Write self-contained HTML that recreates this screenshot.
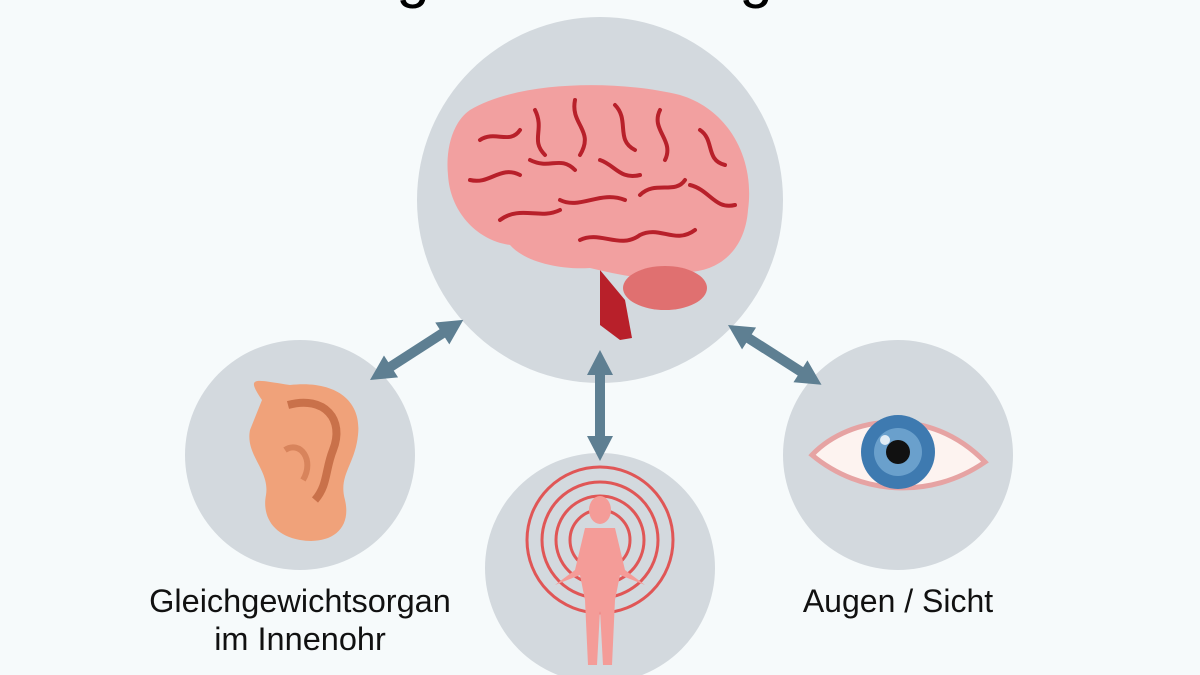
<!DOCTYPE html>
<html><head><meta charset="utf-8"><style>
body{margin:0;width:1200px;height:675px;overflow:hidden;background:#f6fafb;font-family:"Liberation Sans",sans-serif}
svg{position:absolute;left:0;top:0}
.t{font-family:"Liberation Sans",sans-serif;font-size:32.5px;fill:#111;text-anchor:middle}
</style></head><body>
<svg width="1200" height="675" viewBox="0 0 1200 675">
<text x="413" y="-4" font-size="60" text-anchor="middle" font-family="Liberation Sans">g</text>
<text x="756" y="-4" font-size="60" text-anchor="middle" font-family="Liberation Sans">g</text>
<circle cx="600" cy="200" r="183" fill="#d3d9de"/>
<circle cx="300" cy="455" r="115" fill="#d3d9de"/>
<circle cx="898" cy="455" r="115" fill="#d3d9de"/>
<circle cx="600" cy="568" r="115" fill="#d3d9de"/>
<defs>
<g id="da"><line x1="20" y1="0" x2="92" y2="0" stroke="#5e7f92" stroke-width="10"/><path d="M0,0L25,-13L25,13z M111,0L86,-13L86,13z" fill="#5e7f92"/></g>
</defs>
<use href="#da" transform="translate(370,380) rotate(-32.8)"/>
<use href="#da" transform="translate(728,325) rotate(32.6)"/>
<use href="#da" transform="translate(600,350) rotate(90)"/>
<path d="M600,325 L620,340 L632,338 L625,300 L600,270 Z" fill="#b8202a"/>
<path d="M470,110 C520,80 620,80 680,95 C730,110 755,160 748,210 C745,250 720,270 690,272 C660,285 620,275 590,268 C560,270 525,262 510,245 C475,240 450,210 448,175 C445,145 455,120 470,110 Z" fill="#f2a0a0"/>
<ellipse cx="665" cy="288" rx="42" ry="22" fill="#e07070"/>
<g stroke="#b8202a" stroke-width="4" fill="none" stroke-linecap="round">
<path d="M480,140 c15,-10 30,5 40,-10"/><path d="M470,180 c20,5 30,-15 50,-5"/><path d="M535,110 c10,20 -5,30 10,45"/>
<path d="M575,100 c-5,25 20,30 5,55"/><path d="M615,105 c15,15 0,35 20,45"/><path d="M660,110 c-10,20 15,30 5,50"/>
<path d="M700,130 c15,10 5,30 25,35"/><path d="M690,185 c20,5 25,25 45,20"/><path d="M500,220 c20,-15 40,0 60,-10"/>
<path d="M560,200 c20,10 40,-10 65,0"/><path d="M580,240 c20,-10 40,10 60,-5 c20,-10 35,10 55,-5"/><path d="M640,195 c15,-15 35,0 45,-15"/>
<path d="M530,160 c20,10 30,-5 45,10"/><path d="M600,160 c15,5 20,20 40,15"/>
</g>
<path d="M262,400 C245,375 255,380 290,385 C335,380 362,400 358,435 C355,465 338,475 345,500 C352,530 330,545 300,540 C272,535 262,515 266,495 C270,470 245,455 250,430 Z" fill="#f0a27a"/>
<path d="M288,405 C325,395 345,420 333,450 C325,470 328,485 315,500" stroke="#c9714a" stroke-width="8" fill="none"/>
<path d="M285,450 C300,440 315,460 303,480" stroke="#d8845c" stroke-width="6" fill="none"/>
<path d="M812,455 C850,415 930,405 985,462 C930,500 860,495 812,455 Z" fill="#fdf3f0" stroke="#e6a3a3" stroke-width="5"/>
<circle cx="898" cy="452" r="37" fill="#3e7ab0"/>
<circle cx="898" cy="452" r="24" fill="#6aa0cc"/>
<circle cx="898" cy="452" r="12" fill="#111"/>
<circle cx="885" cy="440" r="5" fill="#fff" opacity=".8"/>
<g stroke="#e05656" stroke-width="3" fill="none">
<circle cx="600" cy="540" r="73"/><circle cx="600" cy="540" r="58"/><circle cx="600" cy="540" r="44"/><circle cx="600" cy="540" r="30"/>
</g>
<g fill="#f49c98">
<ellipse cx="600" cy="510" rx="11" ry="14"/>
<path d="M585,528 L615,528 L625,570 L645,585 L620,575 L615,600 L612,665 L603,665 L600,610 L597,665 L588,665 L585,600 L580,575 L555,585 L575,570 Z"/>
</g>
<text class="t" x="300" y="612">Gleichgewichtsorgan</text>
<text class="t" x="300" y="650">im Innenohr</text>
<text class="t" x="898" y="612" style="font-size:32px">Augen / Sicht</text>
</svg>
</body></html>
